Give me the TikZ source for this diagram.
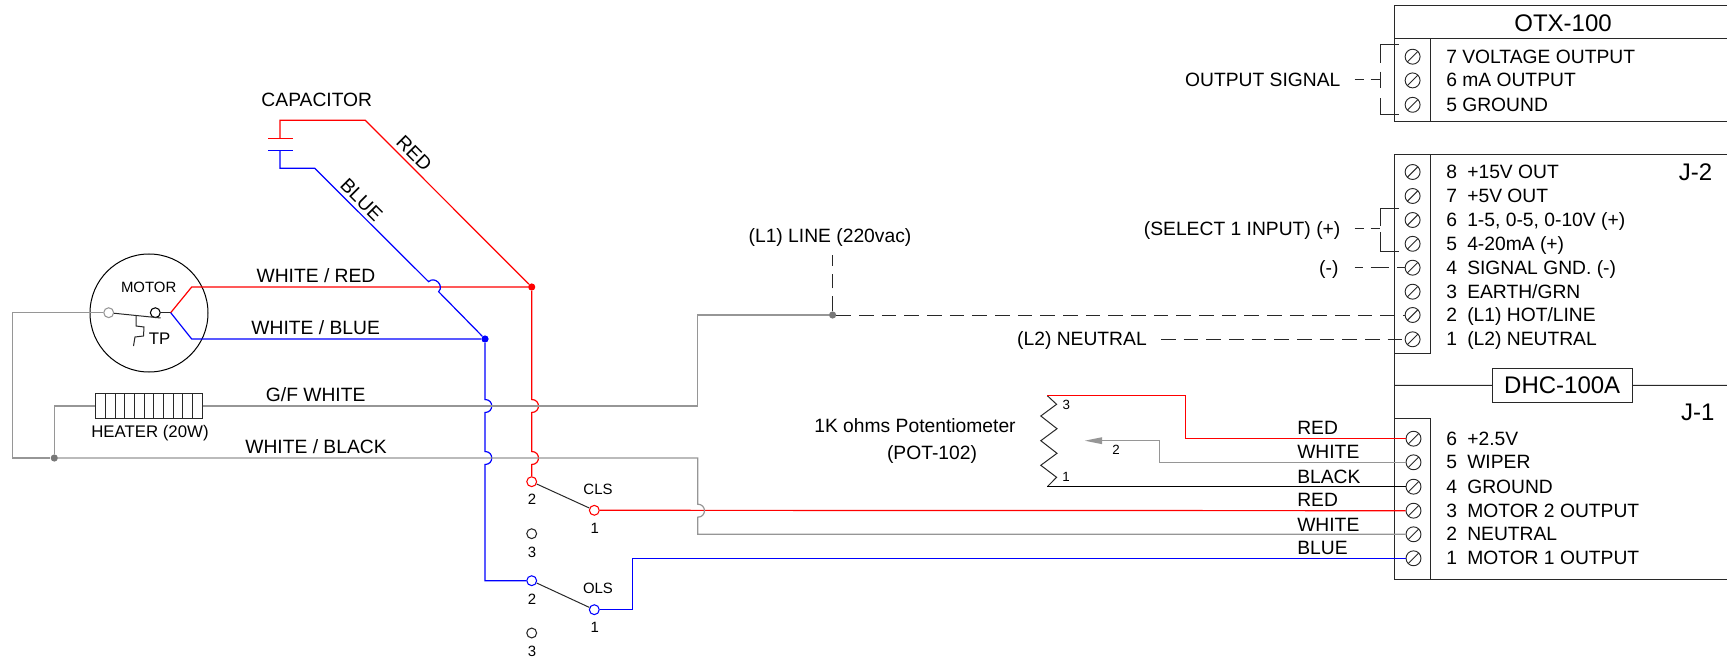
\documentclass[tikz,border=0pt]{standalone}
\usepackage{fontspec}
\setmainfont{Liberation Sans}
\definecolor{wirered}{RGB}{255,0,0}
\definecolor{wireblue}{RGB}{0,0,255}
\definecolor{wiregrey}{RGB}{150,150,150}
\definecolor{boxline}{RGB}{40,40,40}
\tikzset{
  txt/.style={inner sep=0pt,text height=9.6pt,text depth=0pt,font=\fontsize{14.45}{16}\selectfont},
  txtsm/.style={inner sep=0pt,text height=8pt,text depth=0pt,font=\fontsize{11.2}{13}\selectfont},
  txtbig/.style={inner sep=0pt,text height=12.9pt,text depth=0pt,font=\fontsize{18}{20}\selectfont},
  screw/.style={draw=boxline,line width=0.7pt,circle,inner sep=0pt,minimum size=11.2pt,
    path picture={\draw[boxline,line width=0.7pt] (path picture bounding box.south west) -- (path picture bounding box.north east);}},
  term/.style={draw=#1,line width=0.8pt,circle,inner sep=0pt,minimum size=7.4pt},
  jdot/.style={fill=#1,circle,inner sep=0pt,minimum size=5.4pt},
  redwire/.style={draw=wirered,line width=0.9pt},
  bluewire/.style={draw=wireblue,line width=0.9pt},
  greywire/.style={draw=wiregrey,line width=0.9pt},
  thinline/.style={draw=boxline,line width=0.75pt},
  longdash/.style={draw=boxline,line width=0.75pt,dash pattern=on 11pt off 6pt}
}
\begin{document}
\begin{tikzpicture}[x=0.75pt,y=-0.75pt]
  \useasboundingbox (0,0) rectangle (1727,659);

  % hop over a crossing wire
  \def\hop#1#2{-- (#1,#2-6.5) .. controls +(9,0) and +(9,0) .. (#1,#2+6.5)}

  % motor
  \node[draw=black,line width=0.75pt,circle,inner sep=0pt,minimum size=88.5pt] (motor) at (149,313) {};
  \node[txtsm] (motorlbl) at (148.7,286.7) {MOTOR};
  \node[term=wiregrey] (motl) at (108.7,312.7) {};
  \node[term=black] (motr) at (155.3,312.7) {};
  \node[txtsm,font=\fontsize{12.6}{14}\selectfont] (tplbl) at (159.5,339) {TP};
  \coordinate (mjoin) at (170.7,312.7);
  \coordinate (mred) at (191.7,287);
  \coordinate (mblue) at (191.7,339);
  \coordinate (bladeend) at (160.7,318);
  \draw[thinline] (motl) -- (bladeend);
  \draw[thinline] (motr) -- (mjoin);
  \draw[thinline] (136,316) -- (136,326) -- (144,327) -- (143.5,336) -- (135,337) -- (133.5,346);

  % capacitor
  \node[txt] (caplbl) at (316.8,100) {CAPACITOR};
  \coordinate (capr) at (280,138.3);
  \coordinate (capb) at (280,150.7);
  \draw[redwire] (268,138.3) -- (292.7,138.3);
  \draw[bluewire] (268,150.7) -- (292.7,150.7);
  \node[txt,rotate=-45] (redlbl) at (414,153.3) {RED};
  \node[txt,rotate=-45] (bluelbl) at (361.4,200) {BLUE};

  % junctions
  \node[jdot=wirered] (redjoin) at (531.7,287) {};
  \node[jdot=wireblue] (bluejoin) at (485,339) {};
  \node[jdot=wiregrey!80!black] (gdot) at (54.3,458) {};
  \node[jdot=wiregrey!80!black] (ldot) at (832.6,315) {};

  % heater
  \node[draw=boxline,line width=0.75pt,inner sep=0pt,minimum width=79.7pt,minimum height=19pt] (heater) at (148.9,406) {};
  \foreach \i in {1,...,10}
    \draw[thinline] (95.7+\i*9.69,393.3) -- (95.7+\i*9.69,418.7);
  \node[font=\fontsize{12.6}{14}\selectfont,inner sep=0pt,text height=8.9pt,text depth=0pt] (heatlbl) at (150,431.3) {HEATER (20W)};

  % wire labels
  \node[txt] (wrlbl) at (316,276) {WHITE / RED};
  \node[txt] (wblbl) at (315.7,328.3) {WHITE / BLUE};
  \node[txt] (gflbl) at (315.7,395) {G/F WHITE};
  \node[txt] (wklbl) at (316,447.3) {WHITE / BLACK};

  % CLS
  \node[term=wirered] (cls2) at (531.7,481.7) {};
  \node[term=wirered] (cls1) at (594.3,510.3) {};
  \node[term=boxline] (cls3) at (531.7,533.7) {};
  \node[txtsm] (clslbl) at (598,488.7) {CLS};
  \node[txtsm] (clsn2) at (532,498.7) {2};
  \node[txtsm] (clsn1) at (594.7,527.7) {1};
  \node[txtsm] (clsn3) at (532,551.7) {3};
  \draw[thinline] (cls2) -- (cls1);

  % OLS
  \node[term=wireblue] (ols2) at (531.7,580.7) {};
  \node[term=wireblue] (ols1) at (594.3,609.7) {};
  \node[term=boxline] (ols3) at (531.7,633) {};
  \node[txtsm] (olslbl) at (598,587.7) {OLS};
  \node[txtsm] (olsn2) at (532,598.7) {2};
  \node[txtsm] (olsn1) at (594.7,627) {1};
  \node[txtsm] (olsn3) at (532,650.7) {3};
  \draw[thinline] (ols2) -- (ols1);

  % OTX-100
  \draw[thinline] (1727,5.7) -- (1394.3,5.7) -- (1394.3,121.3) -- (1727,121.3);
  \draw[thinline] (1394.3,39) -- (1727,39);
  \draw[thinline] (1430.8,39) -- (1430.8,121.3);
  \node[txtbig] (otxlbl) at (1563,22.7) {OTX-100};
  \node[screw] (otx7) at (1412.6,56.7) {};
  \node[screw] (otx6) at (1412.6,80.4) {};
  \node[screw] (otx5) at (1412.6,104.8) {};
  \node[txt,anchor=west] (otxt7) at (1446,56.7) {7 VOLTAGE OUTPUT};
  \node[txt,anchor=west] (otxt6) at (1446,80.4) {6 mA OUTPUT};
  \node[txt,anchor=west] (otxt5) at (1446,104.8) {5 GROUND};
  \node[txt,anchor=east] (outlbl) at (1340.6,80) {OUTPUT SIGNAL};
  \coordinate (outb) at (1380.6,80);
  \coordinate (outt) at (1398.9,45);
  \coordinate (outl) at (1398.9,115);
  \coordinate (outd) at (1354.7,80);
  \draw[thinline,dash pattern=on 7pt off 5pt] (outd) -- (outb);
  \draw[thinline] (outt) -| (1380.6,63.3);
  \draw[thinline] (1380.6,71.7) -- (1380.6,88.3);
  \draw[thinline] (outl) -| (1380.6,97.7);

  % J-2 and J-1 housing
  \draw[thinline] (1727,154.3) -- (1394.3,154.3) -- (1394.3,579) -- (1727,579);
  \draw[thinline] (1430.8,154.3) |- (1394.3,353.3);
  \draw[thinline] (1394.3,418.7) -| (1430.8,579);
  \node[draw=boxline,line width=0.75pt,inner sep=0pt,minimum width=104.8pt,minimum height=25.2pt,font=\fontsize{18}{20}\selectfont] (dhc) at (1562.2,385.5) {DHC-100A};
  \draw[thinline] (1394.3,385.3) -- (dhc);
  \draw[thinline] (dhc) -- (1727,385.3);
  \node[txtbig] (j2lbl) at (1695.5,172) {J-2};
  \node[txtbig] (j1lbl) at (1697.7,411.7) {J-1};

  % J-2
  \node[screw] (jb8) at (1412.6,172) {};
  \node[screw] (jb7) at (1412.6,196) {};
  \node[screw] (jb6) at (1412.6,220) {};
  \node[screw] (jb5) at (1412.6,243.8) {};
  \node[screw] (jb4) at (1412.6,267.7) {};
  \node[screw] (jb3) at (1412.6,291.7) {};
  \node[screw] (jb2) at (1412.6,315) {};
  \node[screw] (jb1) at (1412.6,339.3) {};
  \node[txt,anchor=west] (jn8) at (1446,172) {8};
  \node[txt,anchor=west] (jn7) at (1446,196) {7};
  \node[txt,anchor=west] (jn6) at (1446,220) {6};
  \node[txt,anchor=west] (jn5) at (1446,243.8) {5};
  \node[txt,anchor=west] (jn4) at (1446,267.7) {4};
  \node[txt,anchor=west] (jn3) at (1446,291.7) {3};
  \node[txt,anchor=west] (jn2) at (1446,315) {2};
  \node[txt,anchor=west] (jn1) at (1446,339.3) {1};
  \node[txt,anchor=west] (jt8) at (1467,172) {+15V OUT};
  \node[txt,anchor=west] (jt7) at (1467,196) {+5V OUT};
  \node[txt,anchor=west] (jt6) at (1467,220) {1-5, 0-5, 0-10V (+)};
  \node[txt,anchor=west] (jt5) at (1467,243.8) {4-20mA (+)};
  \node[txt,anchor=west] (jt4) at (1467,267.7) {SIGNAL GND. (-)};
  \node[txt,anchor=west] (jt3) at (1467,291.7) {EARTH/GRN};
  \node[txt,anchor=west] (jt2) at (1467,315) {(L1) HOT/LINE};
  \node[txt,anchor=west] (jt1) at (1467,339.3) {(L2) NEUTRAL};

  \node[txt,anchor=east] (sellbl) at (1340.6,228.7) {(SELECT 1 INPUT) (+)};
  \coordinate (selb) at (1380.6,228.7);
  \coordinate (seld) at (1354.7,228.7);
  \coordinate (selt) at (1398.9,209);
  \coordinate (sell) at (1398.9,251.7);
  \draw[thinline,dash pattern=on 7pt off 5pt] (seld) -- (selb);
  \draw[thinline] (selt) -| (1380.6,226);
  \draw[thinline] (sell) -| (1380.6,232);

  \node[txt,anchor=east] (neglbl) at (1338.7,267.7) {(-)};
  \coordinate (negd) at (1354.7,267.7);
  \draw[thinline,dash pattern=on 6pt off 6pt on 14pt off 6pt on 20pt off 0pt] (negd) -- (jb4);

  \node[txt,anchor=east] (l2lbl) at (1147,339.3) {(L2) NEUTRAL};
  \coordinate (l2d) at (1161,339.3);
  \draw[longdash] (l2d) -- (jb1);

  \node[txt] (l1lbl) at (830,236) {(L1) LINE (220vac)};
  \coordinate (l1d) at (832.6,255);
  \draw[longdash] (ldot) -- (jb2);
  \draw[longdash] (ldot) -- (l1d);

  % J-1
  \node[screw] (ja6) at (1413.5,438.7) {};
  \node[screw] (ja5) at (1413.5,462.3) {};
  \node[screw] (ja4) at (1413.5,486.7) {};
  \node[screw] (ja3) at (1413.5,510.7) {};
  \node[screw] (ja2) at (1413.5,534.3) {};
  \node[screw] (ja1) at (1413.5,558.3) {};
  \node[txt,anchor=west] (an6) at (1446,438.7) {6};
  \node[txt,anchor=west] (an5) at (1446,462.3) {5};
  \node[txt,anchor=west] (an4) at (1446,486.7) {4};
  \node[txt,anchor=west] (an3) at (1446,510.7) {3};
  \node[txt,anchor=west] (an2) at (1446,534.3) {2};
  \node[txt,anchor=west] (an1) at (1446,558.3) {1};
  \node[txt,anchor=west] (at6) at (1467,438.7) {+2.5V};
  \node[txt,anchor=west] (at5) at (1467,462.3) {WIPER};
  \node[txt,anchor=west] (at4) at (1467,486.7) {GROUND};
  \node[txt,anchor=west] (at3) at (1467,510.7) {MOTOR 2 OUTPUT};
  \node[txt,anchor=west] (at2) at (1467,534.3) {NEUTRAL};
  \node[txt,anchor=west] (at1) at (1467,558.3) {MOTOR 1 OUTPUT};

  \node[txt,anchor=west] (c6) at (1297,428.3) {RED};
  \node[txt,anchor=west] (c5) at (1297,452) {WHITE};
  \node[txt,anchor=west] (c4) at (1297,476.7) {BLACK};
  \node[txt,anchor=west] (c3) at (1297,500) {RED};
  \node[txt,anchor=west] (c2) at (1297,525) {WHITE};
  \node[txt,anchor=west] (c1) at (1297,548.3) {BLUE};

  % potentiometer
  \node[txt] (potlbl) at (915,426) {1K ohms Potentiometer};
  \node[txt] (potpn) at (932,452.7) {(POT-102)};
  \node[font=\fontsize{10}{12}\selectfont,inner sep=0pt] (pn3) at (1066.3,405) {3};
  \node[font=\fontsize{10}{12}\selectfont,inner sep=0pt] (pn2) at (1116,450) {2};
  \node[font=\fontsize{10}{12}\selectfont,inner sep=0pt] (pn1) at (1066,477.3) {1};
  \coordinate (pota) at (1047.3,395.7);
  \coordinate (potb) at (1047.3,486.7);
  \coordinate (wipe) at (1084.8,440.7);
  \draw[thinline] (pota) -- (1056.6,404.3) -- (1040.8,416) -- (1057,428.7) -- (1040.8,440.7)
    -- (1057,453.3) -- (1040.8,465.3) -- (1056.6,477.3) -- (potb);
  \draw[redwire] (pota) -- (1185.4,395.7) |- (ja6);
  \draw[thinline,draw=black] (potb) -- (ja4);
  \draw[greywire] (ja5) -| (1159.5,440.7) -- (1101,440.7);
  \fill[wiregrey] (wipe) -- (1102,437.2) -- (1102,444.2) -- cycle;

  % red wires
  \draw[redwire] (capr) |- (365.3,120.3) -- (redjoin);
  \draw[redwire] (mjoin) -- (mred) -- (redjoin);
  \draw[redwire] (redjoin) \hop{531.7}{406} \hop{531.7}{458} -- (cls2);
  \draw[redwire] (cls1) -- (ja3);

  % blue wires
  \draw[bluewire] (capb) |- (314.7,168.3) -- (428.6,281.7)
    .. controls +(6,-6) and +(6,-6) .. (438.6,291.7) -- (bluejoin);
  \draw[bluewire] (mjoin) -- (mblue) -- (bluejoin);
  \draw[bluewire] (bluejoin) \hop{485}{406} \hop{485}{458} |- (ols2);
  \draw[bluewire] (ols1) -| (632.7,558.3) -- (ja1);

  % grey wires
  \draw[greywire] (motl) -| (12.5,458) -- (gdot);
  \draw[greywire] (gdot) |- (heater);
  \draw[greywire] (gdot) -- (697.7,458) \hop{697.7}{510.7} |- (ja2);
  \draw[greywire] (heater) -- (697.7,406) |- (ldot);
\end{tikzpicture}
\end{document}
